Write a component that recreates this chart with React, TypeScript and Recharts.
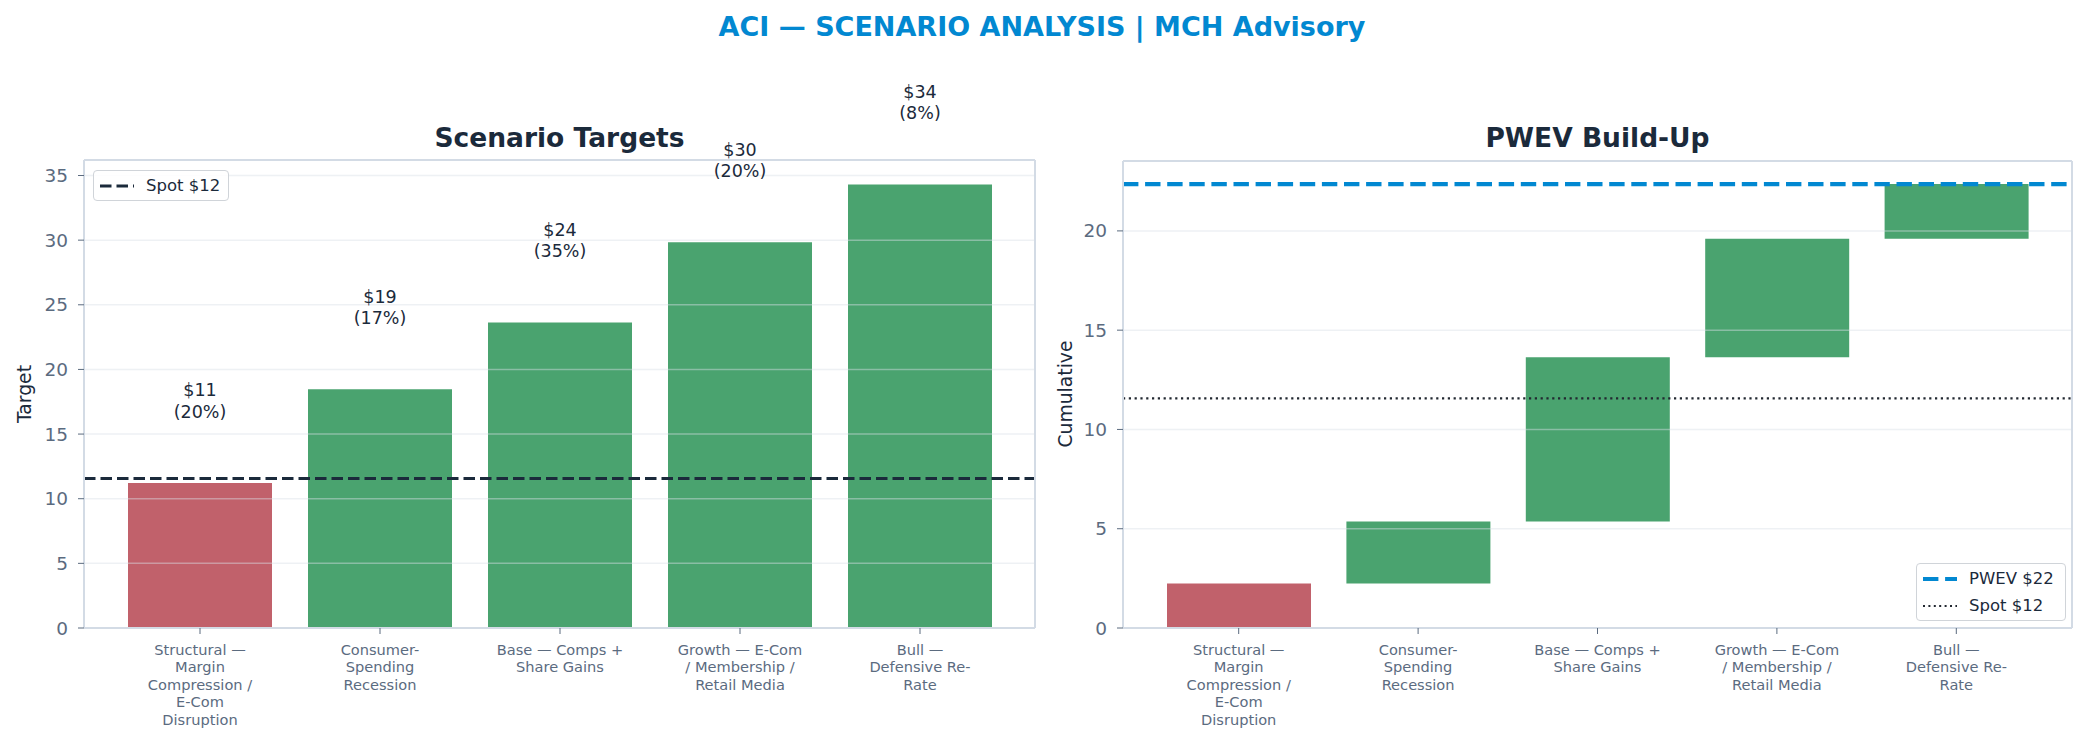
import React from 'react';
import {
  BarChart,
  Bar,
  Cell,
  XAxis,
  YAxis,
  ReferenceLine,
  LabelList
} from 'recharts';

// scenario data
const categories = [
  'Structural —\nMargin\nCompression /\nE-Com\nDisruption',
  'Consumer-\nSpending\nRecession',
  'Base — Comps +\nShare Gains',
  'Growth — E-Com\n/ Membership /\nRetail Media',
  'Bull —\nDefensive Re-\nRate'
];
const targets = [11.21, 18.46, 23.64, 29.83, 34.31];
const targetLabels = ['$11', '$19', '$24', '$30', '$34'];
const probabilities = [20, 17, 35, 20, 8];
const contributions = [2.24, 3.12, 8.27, 5.98, 2.75];
const spotPrice = 11.56;
const pwevValue = 22.36;
const targetTicks = [0, 5, 10, 15, 20, 25, 30, 35];
const pwevTicks = [0, 5, 10, 15, 20];

const FONT = '"DejaVu Sans", sans-serif';
const NAVY = '#1b2a3b';
const SLATE = '#5b6b7f';
const SPINE = '#d3dbe5';
const GREEN = '#4aa36f';
const RED = '#c1616b';
const BLUE = '#0288d1';

const W = 1042;
const H = 742;

const targetData = categories.map((name, i) => ({ name, target: targets[i] }));

let running = 0;
const pwevData = categories.map((name, i) => {
  const base = running;
  running += contributions[i];
  return { name, base, delta: contributions[i], target: targets[i] };
});

const colorFor = (i: number) => (targets[i] < spotPrice ? RED : GREEN);

const CategoryTick = ({ x, y, payload }: any) => {
  const lines = String(payload.value).split('\n');
  return (
    <text x={x} y={y} textAnchor="middle" fill={SLATE} fontSize={14.6} fontFamily={FONT}>
      {lines.map((l, i) => (
        <tspan key={i} x={x} dy={i === 0 ? 18.5 : 17.5}>
          {l}
        </tspan>
      ))}
    </text>
  );
};

// two-line "$xx / (pp%)" label sitting a fixed number of units above the bar
const ValueLabel = (props: any) => {
  const { x, y, width, height, value, index } = props;
  const perUnit = height / value;
  const second = y - 5.5 * perUnit;
  const cx = x + width / 2;
  return (
    <text textAnchor="middle" fill={NAVY} fontSize={17.5} fontFamily={FONT}>
      <tspan x={cx} y={second - 21.6 + 6}>{targetLabels[index]}</tspan>
      <tspan x={cx} y={second + 6}>({probabilities[index]}%)</tspan>
    </text>
  );
};

const yTick = { fill: SLATE, fontSize: 18.5, fontFamily: FONT };

const gridLines = (ticks: number[]) =>
  ticks
    .filter((t) => t > 0)
    .map((t) => (
      <ReferenceLine key={`g${t}`} y={t} stroke="#d9dfe7" strokeOpacity={0.45} strokeWidth={1.5} />
    ));

// top and right spines, drawn as thin empty axes
const boxAxes = [
  <XAxis key="top" xAxisId="top" orientation="top" height={1} tick={false} tickLine={false} axisLine={{ stroke: SPINE, strokeWidth: 2 }} />,
  <YAxis key="right" yAxisId="right" orientation="right" width={1} tick={false} tickLine={false} axisLine={{ stroke: SPINE, strokeWidth: 2 }} />
];

const ScenarioTargets = () => (
  <BarChart width={W} height={H} data={targetData} margin={{ top: 159, right: 6, left: 24, bottom: 14 }}>
    <XAxis
      dataKey="name"
      interval={0}
      height={100}
      padding={{ left: 26, right: 25 }}
      tick={<CategoryTick />}
      tickSize={6}
      tickMargin={2}
      tickLine={{ stroke: SLATE }}
      axisLine={{ stroke: SPINE, strokeWidth: 2 }}
    />
    <YAxis
      domain={[0, 36.2]}
      ticks={targetTicks}
      width={60}
      tick={yTick}
      tickSize={6}
      tickMargin={10}
      tickLine={{ stroke: SLATE }}
      axisLine={{ stroke: SPINE, strokeWidth: 2 }}
    />
    {boxAxes}
    <Bar dataKey="target" barSize={144} isAnimationActive={false}>
      {targetData.map((_, i) => (
        <Cell key={i} fill={colorFor(i)} />
      ))}
      <LabelList dataKey="target" content={<ValueLabel />} />
    </Bar>
    {gridLines(targetTicks)}
    <ReferenceLine y={spotPrice} stroke={NAVY} strokeWidth={3} strokeDasharray="11.5 5" />
  </BarChart>
);

const PwevBuildUp = () => (
  <BarChart width={W} height={H} data={pwevData} margin={{ top: 160, right: 11, left: 21, bottom: 14 }}>
    <XAxis
      dataKey="name"
      interval={0}
      height={100}
      padding={{ left: 26, right: 26 }}
      tick={<CategoryTick />}
      tickSize={6}
      tickMargin={2}
      tickLine={{ stroke: SLATE }}
      axisLine={{ stroke: SPINE, strokeWidth: 2 }}
    />
    <YAxis
      domain={[0, 23.52]}
      ticks={pwevTicks}
      width={60}
      tick={yTick}
      tickSize={6}
      tickMargin={10}
      tickLine={{ stroke: SLATE }}
      axisLine={{ stroke: SPINE, strokeWidth: 2 }}
    />
    {boxAxes}
    <Bar dataKey="base" stackId="w" fill="transparent" barSize={144} isAnimationActive={false} />
    <Bar dataKey="delta" stackId="w" barSize={144} isAnimationActive={false}>
      {pwevData.map((_, i) => (
        <Cell key={i} fill={colorFor(i)} />
      ))}
    </Bar>
    {gridLines(pwevTicks)}
    <ReferenceLine y={pwevValue} stroke={BLUE} strokeWidth={4.2} strokeDasharray="15.4 6.7" />
    <ReferenceLine y={spotPrice} stroke="#222831" strokeWidth={2.2} strokeDasharray="2.2 3.6" />
  </BarChart>
);

const legendBox: React.CSSProperties = {
  position: 'absolute',
  background: 'rgba(255,255,255,0.85)',
  border: '1.5px solid #d0d4d9',
  borderRadius: 4,
  boxSizing: 'border-box',
  fontFamily: FONT,
  fontSize: 16.5,
  color: NAVY,
  whiteSpace: 'nowrap'
};

const LegendRow = ({ dash, color, width, label }: any) => (
  <div style={{ display: 'flex', alignItems: 'center', height: 27 }}>
    <svg width={34} height={10} style={{ marginRight: 12, flexShrink: 0 }}>
      <line x1={0} x2={34} y1={5} y2={5} stroke={color} strokeWidth={width} strokeDasharray={dash} />
    </svg>
    <span>{label}</span>
  </div>
);

export default function App() {
  return (
    <div style={{ position: 'relative', width: 2084, height: 742, background: '#fff', overflow: 'hidden' }}>
      <style>{'body{margin:0}'}</style>
      <div style={{ position: 'absolute', left: 0, top: 0 }}>
        <ScenarioTargets />
      </div>
      <div style={{ position: 'absolute', left: 1042, top: 0 }}>
        <PwevBuildUp />
      </div>

      <svg width={2084} height={742} style={{ position: 'absolute', left: 0, top: 0, pointerEvents: 'none' }}>
        <text x={1042} y={36} textAnchor="middle" fill={BLUE} fontSize={27} fontWeight="bold" fontFamily={FONT}>
          ACI — SCENARIO ANALYSIS | MCH Advisory
        </text>
        <text x={559.5} y={147} textAnchor="middle" fill={NAVY} fontSize={26.5} fontWeight="bold" fontFamily={FONT}>
          Scenario Targets
        </text>
        <text x={1597.5} y={147} textAnchor="middle" fill={NAVY} fontSize={26.5} fontWeight="bold" fontFamily={FONT}>
          PWEV Build-Up
        </text>
        <text x={31} y={394} textAnchor="middle" transform="rotate(-90 31 394)" fill={NAVY} fontSize={18.75} fontFamily={FONT}>
          Target
        </text>
        <text x={1072} y={394} textAnchor="middle" transform="rotate(-90 1072 394)" fill={NAVY} fontSize={18.75} fontFamily={FONT}>
          Cumulative
        </text>
      </svg>

      <div style={{ ...legendBox, left: 93, top: 170, width: 136, height: 31, padding: '1px 6px' }}>
        <LegendRow dash="11.5 5" color={NAVY} width={3} label="Spot $12" />
      </div>
      <div style={{ ...legendBox, left: 1916, top: 563, width: 150, height: 58, padding: '1px 6px' }}>
        <LegendRow dash="15.4 6.7" color={BLUE} width={4.2} label="PWEV $22" />
        <LegendRow dash="2 3.4" color="#222831" width={2} label="Spot $12" />
      </div>
    </div>
  );
}
